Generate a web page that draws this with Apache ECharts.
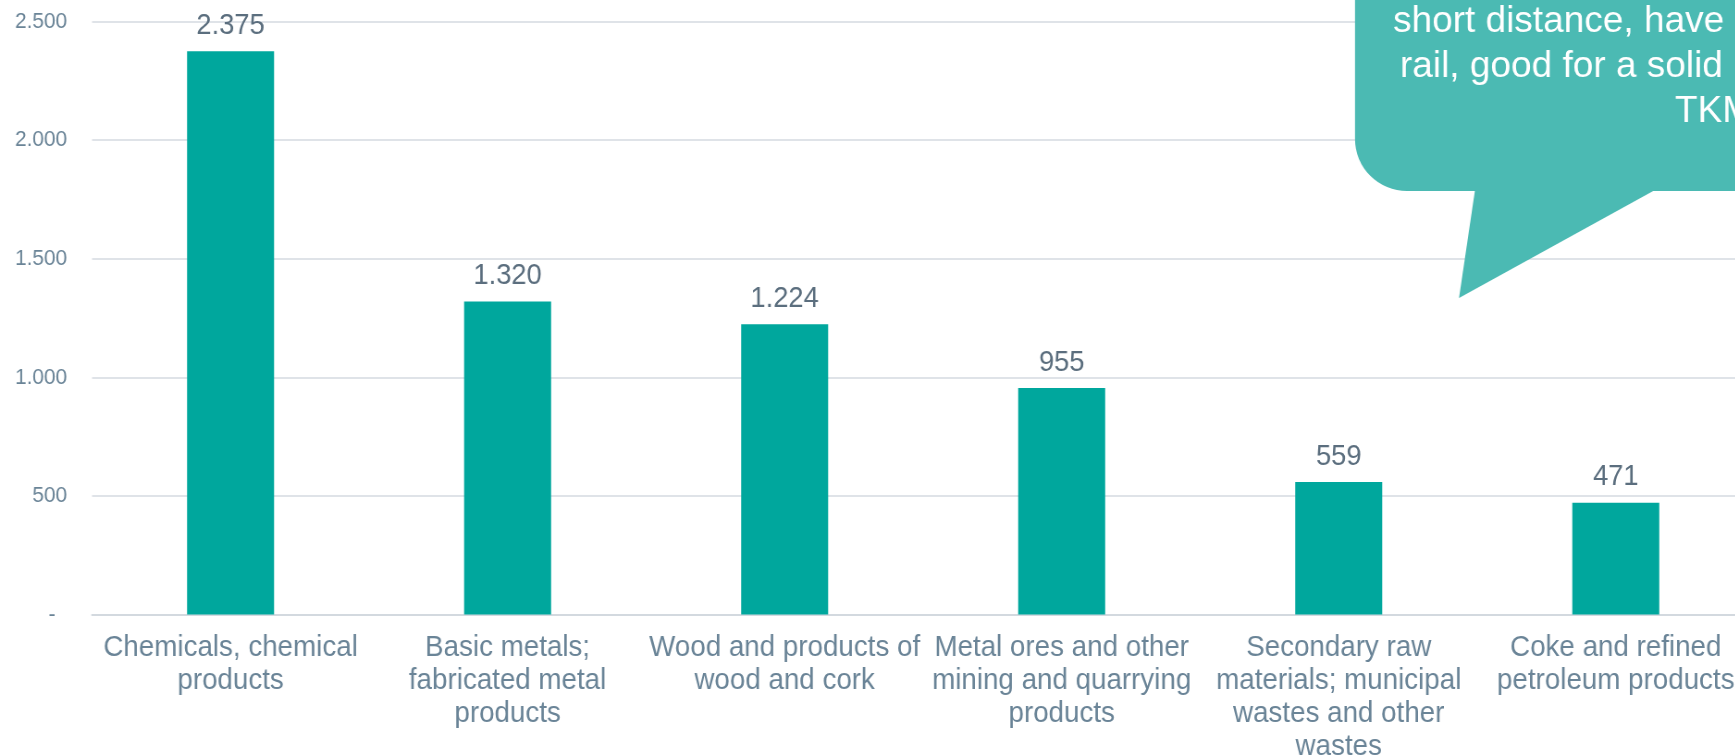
<!DOCTYPE html>
<html>
<head>
<meta charset="utf-8">
<script src="https://cdn.jsdelivr.net/npm/echarts@6/dist/echarts.min.js"></script>
<style>
  html, body { margin: 0; padding: 0; background: #ffffff; overflow: hidden; }
  #wrap { width: 1735px; height: 755px; overflow: hidden; position: relative; }
  /* the chart is drawn slightly wider and squeezed horizontally to its slot */
  #chart { width: 1876px; height: 755px; transform: scaleX(0.925); transform-origin: 0 0; }
</style>
</head>
<body>
<div id="wrap"><div id="chart"></div></div>
<script>
// Goods categories (line breaks as laid out under each bar)
const categories = [
  'Chemicals, chemical\nproducts',
  'Basic metals;\nfabricated metal\nproducts',
  'Wood and products of\nwood and cork',
  'Metal ores and other\nmining and quarrying\nproducts',
  'Secondary raw\nmaterials; municipal\nwastes and other\nwastes',
  'Coke and refined\npetroleum products'
];

// Volume per category
const values = [2375, 1320, 1224, 955, 559, 471];

// Value axis ticks
const yMin = 0;
const yMax = 2500;
const yStep = 500;

// Callout text
const calloutLines = [
  'short distance, have',
  'rail, good for a solid',
  'TKM'
];

const SQUEEZE = 0.925;
const FONT = '"Liberation Sans", Arial, sans-serif';
const BAR = '#00a79d';
const BUBBLE = '#4bbab3';
const AXIS_TEXT = '#6a8497';
const LABEL_TEXT = '#5b6e7e';

// Thousands separated by dots; zero shown as a dash
function fmt(v) {
  if (v === 0) return '-  ';
  return String(v).replace(/\B(?=(\d{3})+(?!\d))/g, '.');
}

const chart = echarts.init(document.getElementById('chart'), null, { renderer: 'canvas' });

// Callout placement in page pixels (the group undoes the horizontal squeeze)
const calloutX = [1393, 1400, 1675];
const calloutY = [21.5, 66.5, 111.5];

const callout = {
  type: 'group',
  x: 0,
  y: 0,
  scaleX: 1 / SQUEEZE,
  z: 10,
  children: [
    {
      type: 'rect',
      shape: { x: 1355, y: -100, width: 500, height: 291, r: [0, 0, 0, 52] },
      style: { fill: BUBBLE },
      z: 10
    },
    {
      type: 'polygon',
      shape: { points: [[1475, 190], [1459, 298], [1655, 190]] },
      style: { fill: BUBBLE },
      z: 10
    }
  ].concat(calloutLines.map((t, i) => ({
    type: 'text',
    x: calloutX[i],
    y: calloutY[i],
    z: 11,
    style: {
      text: t,
      fill: '#ffffff',
      font: '37px ' + FONT,
      verticalAlign: 'middle',
      align: 'left'
    }
  })))
};

chart.setOption({
  animation: false,
  backgroundColor: '#ffffff',
  textStyle: { fontFamily: FONT },
  grid: {
    left: 99.5,
    right: -20.5,
    top: 21.5,
    bottom: 140.5,
    containLabel: false,
    outerBoundsMode: 'none'
  },
  xAxis: {
    type: 'category',
    data: categories,
    axisTick: { show: false },
    axisLine: { show: true, lineStyle: { color: '#d3d9df', width: 2 } },
    axisLabel: {
      interval: 0,
      margin: 17,
      color: AXIS_TEXT,
      fontSize: 30,
      lineHeight: 33,
      fontFamily: FONT,
      align: 'center',
      hideOverlap: false
    }
  },
  yAxis: {
    type: 'value',
    min: yMin,
    max: yMax,
    interval: yStep,
    axisLine: { show: false },
    axisTick: { show: false },
    splitLine: { lineStyle: { color: '#dfe3e8', width: 2 } },
    axisLabel: {
      margin: 27,
      color: AXIS_TEXT,
      fontSize: 22.5,
      fontFamily: FONT,
      formatter: fmt
    }
  },
  series: [{
    type: 'bar',
    data: values,
    barWidth: '31.4%',
    itemStyle: { color: BAR },
    label: {
      show: true,
      position: 'top',
      distance: 10.5,
      color: LABEL_TEXT,
      fontSize: 29.5,
      fontFamily: FONT,
      formatter: p => fmt(p.value)
    }
  }],
  graphic: [callout]
});
</script>
</body>
</html>
